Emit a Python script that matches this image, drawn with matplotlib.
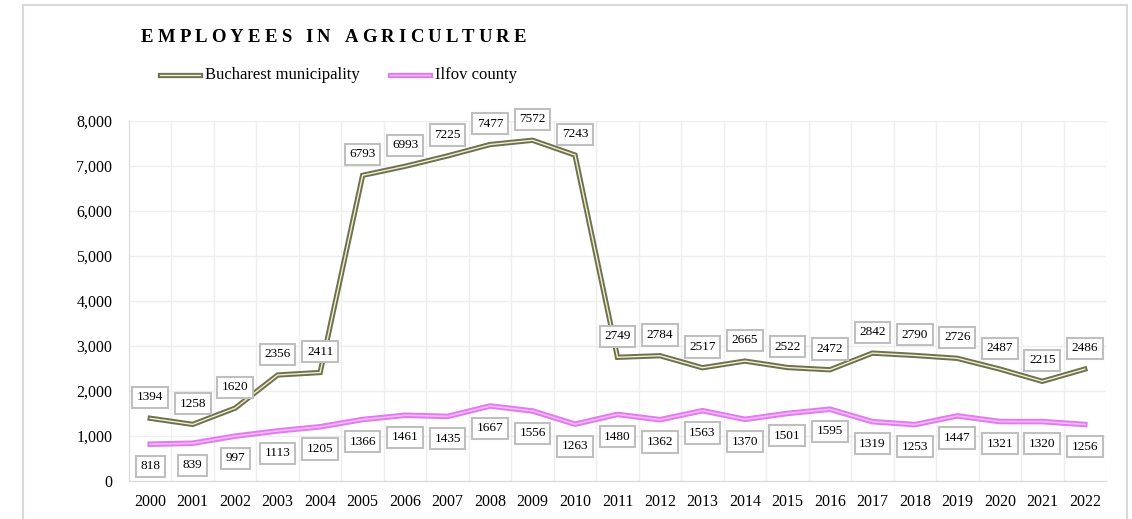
import numpy as np
import matplotlib.pyplot as plt
from matplotlib.patches import Rectangle
from matplotlib.ticker import FuncFormatter

years = [str(y) for y in range(2000, 2023)]
bucharest = [1394, 1258, 1620, 2356, 2411, 6793, 6993, 7225, 7477, 7572, 7243,
             2749, 2784, 2517, 2665, 2522, 2472, 2842, 2790, 2726, 2487, 2215, 2486]
ilfov = [818, 839, 997, 1113, 1205, 1366, 1461, 1435, 1667, 1556, 1263,
         1480, 1362, 1563, 1370, 1501, 1595, 1319, 1253, 1447, 1321, 1320, 1256]

serif = 'Liberation Serif'
olive = '#6f6f52'
olive_in = '#f2f0c8'
pink = '#e07cf0'
pink_in = '#f4b8fa'

fig = plt.figure(figsize=(11.32, 5.19), dpi=100)
fig.patches.append(Rectangle((23 / 1132, -0.05), (1127 - 23) / 1132, 1.05 - 5 / 519,
                             transform=fig.transFigure, fill=False,
                             edgecolor='#d9d9d9', linewidth=1.5))

ax = fig.add_axes([129 / 1132, 1 - 481 / 519, (1106 - 129) / 1132, (481 - 121) / 519])
x = np.arange(len(years))

# double-line look: thick dark line, thin light line on top
ax.plot(x, bucharest, color=olive, lw=3.8, solid_joinstyle='miter', zorder=3)
ax.plot(x, bucharest, color=olive_in, lw=1.0, solid_joinstyle='miter', zorder=4)
ax.plot(x, ilfov, color=pink, lw=4.0, zorder=3)
ax.plot(x, ilfov, color=pink_in, lw=1.2, zorder=4)

box = dict(boxstyle='square,pad=0.35', facecolor='white', edgecolor='#bfbfbf', linewidth=1.5)
for i in range(len(years)):
    ax.annotate(str(bucharest[i]), (x[i], bucharest[i]), xytext=(0, 15),
                textcoords='offset points', ha='center', va='center',
                fontsize=9.5, family=serif, bbox=box, zorder=5)
    ax.annotate(str(ilfov[i]), (x[i], ilfov[i]), xytext=(0, -16),
                textcoords='offset points', ha='center', va='center',
                fontsize=9.5, family=serif, bbox=box, zorder=5)

ax.set_xlim(-0.5, len(years) - 0.5)
ax.set_ylim(0, 8000)
ax.set_yticks(range(0, 8001, 1000))
ax.yaxis.set_major_formatter(FuncFormatter(lambda v, p: '{:,.0f}'.format(v)))
ax.set_xticks(x)
ax.set_xticklabels(years)
ax.set_xticks(np.arange(-0.5, len(years), 1), minor=True)
ax.grid(False)
ax.grid(axis='y', which='major', color='#eeeeee', lw=1)
ax.grid(axis='x', which='minor', color='#eeeeee', lw=1)
ax.tick_params(which='both', length=0)
ax.tick_params(axis='x', pad=9)
ax.tick_params(axis='y', pad=12)
for lab in ax.get_xticklabels() + ax.get_yticklabels():
    lab.set_family(serif)
    lab.set_fontsize(11.5)
for s in ['top', 'right']:
    ax.spines[s].set_visible(False)
ax.spines['left'].set_color('#d9d9d9')
ax.spines['bottom'].set_color('#d9d9d9')
ax.set_axisbelow(True)

# title with wide letter spacing, drawn letter by letter
title = 'EMPLOYEES IN AGRICULTURE'
fig.canvas.draw()
r = fig.canvas.get_renderer()
px = 141
for ch in title:
    t = fig.text(px / 1132, 1 - 37 / 519, ch, fontsize=13.5, fontweight='bold',
                 family=serif, va='center', ha='left')
    w = t.get_window_extent(r).width if ch != ' ' else 6
    px += w + 4.1

# legend
ly = 1 - 75 / 519
for x0, x1, c, ci, name in [(160, 200, olive, olive_in, 'Bucharest municipality'),
                            (390, 430, pink, pink_in, 'Ilfov county')]:
    fig.lines.append(plt.Line2D([x0 / 1132, x1 / 1132], [ly, ly], color=c, lw=3.8,
                                transform=fig.transFigure))
    fig.lines.append(plt.Line2D([x0 / 1132, x1 / 1132], [ly, ly], color=ci, lw=1.0,
                                transform=fig.transFigure))
    fig.text((x1 + 5) / 1132, ly, name, fontsize=12, family=serif, va='center', ha='left')

fig.savefig('out.png', dpi=100)
